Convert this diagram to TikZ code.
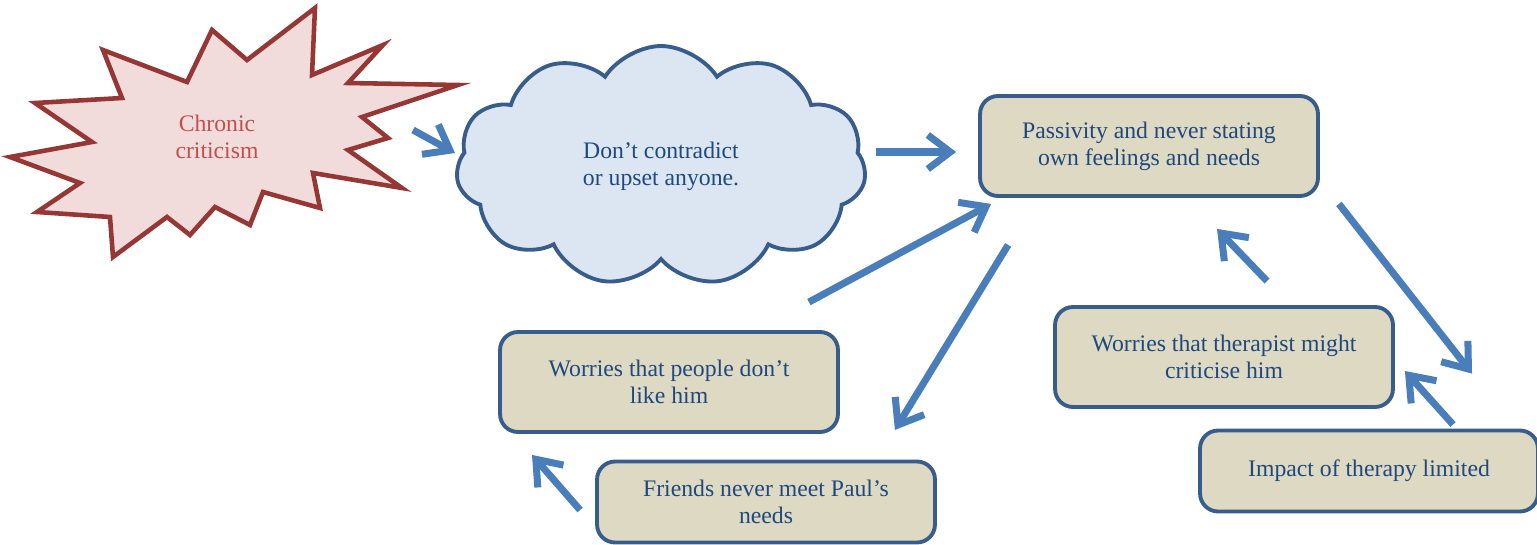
\documentclass[tikz,border=0pt]{standalone}
\usepackage{fontspec}
\setmainfont{Liberation Serif}
\newfontfamily\boxfont{Liberation Serif}
\usepackage{xcolor}
\usetikzlibrary{
  positioning,
  calc,
  arrows.meta,
  shapes.symbols,
}
\definecolor{boxfill}{HTML}{DDD9C3}
\definecolor{boxline}{HTML}{385D8A}
\definecolor{boxtext}{HTML}{1F497D}
\definecolor{flowblue}{HTML}{4A7EBB}
\definecolor{cloudfill}{HTML}{DCE6F2}
\definecolor{starfill}{HTML}{F2DCDB}
\definecolor{starline}{HTML}{953735}
\definecolor{startext}{HTML}{C0504D}
\tikzset{
  meta box/.style={
    draw=boxline,
    line width=2.2pt,
    text=boxtext,
    align=center
  },
  punkt/.style={
    meta box,
    rectangle,
    rounded corners=0.36cm,
    fill=boxfill,
    minimum width=6.76cm,
    minimum height=2cm
  },
  flat punkt/.style={
    punkt,
    minimum height=1.62cm
  },
  think/.style={
    meta box,
    cloud,
    cloud puffs=11,
    cloud puff arc=115,
    aspect=1.7,
    fill=cloudfill,
    minimum width=8.2cm,
    minimum height=4.8cm
  },
  flow/.style={
    draw=flowblue,
    line width=4pt,
    -{Straight Barb[length=0.45cm,width=0.68cm]}
  }
}

\begin{document}
\begin{tikzpicture}[x=0.02cm, y=-0.02cm, font=\boxfont\fontsize{13.5}{15.5}\selectfont]
  \useasboundingbox (0,0) rectangle (1537,544);

  % the burst
  \draw[starline, fill=starfill, line width=2.6pt, line join=miter]
    (315,8) -- (312,75) -- (383,45) -- (348,83) -- (458,85) -- (362,117)
    -- (388,138) -- (348,150) -- (402,188) -- (313,173) -- (320,208)
    -- (263,192) -- (250,225) -- (215,207) -- (190,235) -- (167,217)
    -- (113,257) -- (110,217) -- (37,212) -- (80,183) -- (10,157)
    -- (92,142) -- (35,103) -- (122,98) -- (103,50) -- (187,82)
    -- (212,30) -- (247,60) -- cycle;
  \node[text=startext, align=center] (crit) at (217,137) {Chronic\\criticism};

  \node[think] (rule) at (661,166) {Don’t contradict\\or upset anyone.};

  \node[punkt] (passive) at (1149,146) {Passivity and never stating\\own feelings and needs};
  \node[punkt] (dislike) at (669,382) {Worries that people don’t\\like him};
  \node[flat punkt] (friends) at (766,502) {Friends never meet Paul’s\\needs};
  \node[punkt] (therapist) at (1224,357) {Worries that therapist might\\criticise him};
  \node[flat punkt] (impact) at (1369,471) {Impact of therapy limited};

  \draw[flow] ([shift={(-248,-36)}]rule.center) -- ([shift={(-206,-13)}]rule.center);
  \draw[flow] ([shift={(215,-14)}]rule.center) -- ([shift={(-22,6)}]passive.west);
  \draw[flow] ([shift={(-31,-28)}]dislike.north east) -- ([shift={(13,6)}]passive.south west);
  \draw[flow] ([shift={(30,47)}]passive.south west) -- ([shift={(55,-4)}]dislike.south east);
  \draw[flow] ([shift={(19,6)}]passive.south east) -- ([shift={(103,-55)}]impact.north);
  \draw[flow] ([shift={(43,-24)}]therapist.north) -- ([shift={(68,31)}]passive.south);
  \draw[flow] ([shift={(84,-4)}]impact.north) -- ([shift={(10,14)}]therapist.east);
  \draw[flow] ([shift={(-15,8)}]friends.west) -- ([shift={(-137,21)}]dislike.south);
\end{tikzpicture}
\end{document}
